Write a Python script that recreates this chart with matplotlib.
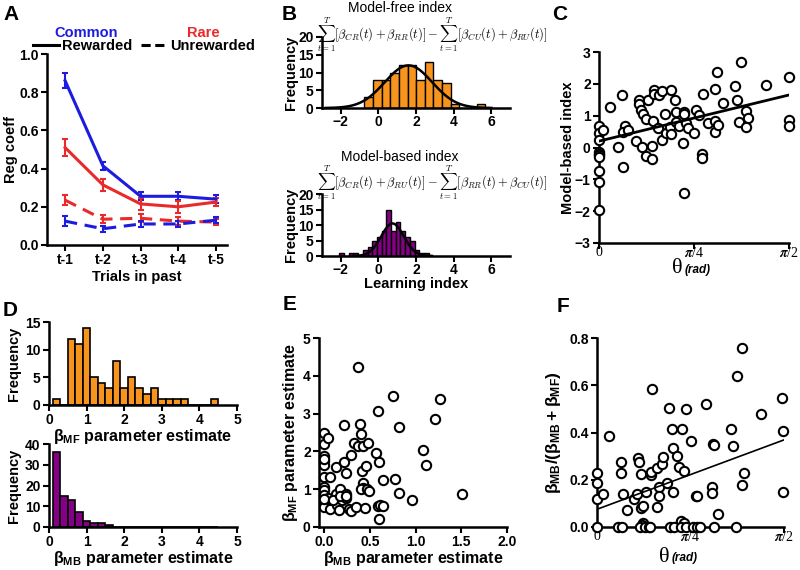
import numpy as np
import matplotlib
matplotlib.use('Agg')
import matplotlib.pyplot as plt
from matplotlib.lines import Line2D
from matplotlib.ticker import FormatStrFormatter

plt.rcParams['font.family'] = ['Liberation Sans', 'DejaVu Sans']
plt.rcParams['font.weight'] = 'bold'
plt.rcParams['axes.labelweight'] = 'bold'
plt.rcParams['mathtext.fontset'] = 'custom'
plt.rcParams['mathtext.rm'] = 'Liberation Sans'
plt.rcParams['mathtext.bf'] = 'Liberation Sans:bold'
plt.rcParams['mathtext.it'] = 'Liberation Sans:italic'

# ---- panel A: regression coefficients ----
trials = ['t-1', 't-2', 't-3', 't-4', 't-5']
common_rew = [0.86, 0.415, 0.255, 0.255, 0.24]
common_rew_err = [0.04, 0.02, 0.02, 0.02, 0.02]
rare_rew = [0.51, 0.315, 0.215, 0.20, 0.225]
rare_rew_err = [0.045, 0.03, 0.03, 0.03, 0.02]
rare_unrew = [0.235, 0.135, 0.14, 0.125, 0.12]
rare_unrew_err = [0.025, 0.02, 0.02, 0.02, 0.015]
common_unrew = [0.125, 0.085, 0.11, 0.11, 0.13]
common_unrew_err = [0.025, 0.015, 0.015, 0.015, 0.015]

# ---- panel B: learning index histograms ----
mf_centers = [-0.52, -0.06, 0.40, 0.86, 1.32, 1.78, 2.24, 2.70, 3.16, 3.62, 4.08, 4.54, 5.00, 5.46]
mf_counts = [3, 8, 8, 10, 12, 12, 8, 13, 8, 7, 1, 0, 0, 1]
mf_binw = 0.46
mf_fit = (1.6, 1.26, 12.0)   # mean, sd, peak

mb_centers = [-1.95, -1.70, -1.45, -1.20, -0.95, -0.70, -0.45, -0.20, 0.05, 0.30, 0.55,
              0.80, 1.05, 1.30, 1.55, 1.80, 2.05, 2.30, 2.55]
mb_counts = [1, 0, 1, 1, 0, 2, 3, 5, 6, 8, 15, 8, 11, 8, 6, 5, 2, 1, 1]
mb_binw = 0.25
mb_fit = (0.75, 0.6, 10.5)

# ---- panel C: theta (fraction of pi/2) vs model-based index ----
c_theta = [0, 0, 0, 0, 0, 0, 0, 0, 0, 0,
           0.02, 0.056, 0.10, 0.123, 0.126, 0.135, 0.128, 0.153, 0.193,
           0.21, 0.21, 0.222, 0.23, 0.245, 0.228, 0.245, 0.258, 0.28, 0.28,
           0.288, 0.288, 0.285, 0.316, 0.313, 0.332, 0.329, 0.346, 0.354,
           0.38, 0.375, 0.38, 0.40, 0.403, 0.407, 0.42, 0.446, 0.446, 0.442, 0.446,
           0.458, 0.467, 0.498, 0.508, 0.526, 0.544, 0.54, 0.547, 0.574,
           0.61, 0.61, 0.625, 0.612, 0.623, 0.65, 0.714, 0.726, 0.737, 0.749,
           0.775, 0.784, 0.775, 0.877, 1.0, 1.0, 1.0]
c_index = [0.67, 0.44, 0.25, -0.14, -0.2, -0.24, -0.3, -0.73, -1.07, -1.96,
           0.56, 1.28, 0.02, 1.64, -0.6, 0.67, 0.49, 0.56, 0.2,
           1.48, 1.36, 1.19, 1.06, 0.91, 0.02, -0.28, 1.48, 0.04, -0.35,
           1.8, 1.69, 0.83, 1.64, 0.62, 1.77, 0.25, 1.04, 0.44,
           1.8, 0.65, 0.42, 1.48, 1.12, 0.8, 0.67, 1.12, 1.04, 0.13, -1.44,
           0.77, 0.6, 0.44, 1.17, 1.01, -0.21, -0.34, 1.67, 0.77,
           0.84, 0.5, 0.7, 1.85, 2.37, 1.4, 1.93, 1.5, 0.8, 2.7,
           1.15, 0.94, 0.63, 1.95, 2.23, 0.86, 0.67]
c_fit = (0.2, 0.923)   # intercept, slope

# ---- panel D: parameter estimate histograms ----
d_edges = [0.1, 0.3, 0.5, 0.7, 0.9, 1.1, 1.3, 1.5, 1.7, 1.9, 2.1, 2.3, 2.5, 2.7, 2.9,
           3.1, 3.3, 3.5, 3.7, 3.9, 4.1, 4.3]
beta_mf_counts = [1, 0, 12, 11, 14, 5, 4, 3, 8, 3, 5, 3, 2, 3, 1, 1, 1, 1, 0, 0, 0, 1]
beta_mb_counts = [36, 15, 13, 7, 3, 2, 2, 1, 0, 0, 0, 0, 0, 0, 0, 0, 0, 0, 0, 0, 0, 0]

# ---- panel E: beta_MB vs beta_MF ----
e_beta_mb = [0, 0, 0.043, 0, 0, 0, 0, 0.07, 0, 0, 0, 0, 0, 0.043, 0.06, 0.134, 0.127,
             0.14, 0.17, 0.16, 0.2, 0.214, 0.217, 0.235, 0.235, 0.24, 0.27, 0.29, 0.29,
             0.35, 0.33, 0.37, 0.395, 0.405, 0.424, 0.478, 0.37, 0.417, 0.424, 0.424,
             0.405, 0.46, 0.467, 0.49, 0.45, 0.57, 0.587, 0.605, 0.587, 0.61, 0.6, 0.64,
             0.65, 0.757, 0.78, 0.815, 0.815, 0.967, 1.083, 1.11, 1.214, 1.264, 1.504,
             0, 0, 0.1, 0.17, 0.24]
e_beta_mf = [2.48, 2.2, 2.35, 1.88, 1.75, 1.64, 1.33, 1.33, 1.07, 0.98, 0.85, 0.63, 0.54,
             0.76, 0.47, 1.6, 0.87, 0.58, 1.0, 0.45, 0.71, 2.7, 1.73, 1.42, 0.87, 0.76,
             0.47, 0.42, 1.9, 0.54, 2.21, 2.14, 2.72, 2.46, 2.14, 2.21, 4.22, 1.49, 1.16,
             1.02, 1.0, 1.61, 1.0, 0.96, 0.49, 1.95, 3.07, 1.73, 0.56, 0.58, 0.2, 1.24,
             0.56, 3.47, 1.26, 2.65, 0.91, 0.71, 2.04, 1.64, 2.85, 3.38, 0.87,
             0.75, 1.8, 0.72, 0.83, 0.82]

# ---- panel F: theta (fraction of pi/2) vs MB weight ----
f_theta = [0, 0, 0, 0.03, 0.064, 0.127, 0.13, 0.14, 0.162, 0.198, 0.216, 0.22, 0.226,
           0.233, 0.233, 0.248, 0.262, 0.287, 0.29, 0.292, 0.319, 0.333, 0.333, 0.32,
           0.346, 0.355, 0.376, 0.387, 0.4, 0.408, 0.426, 0.408, 0.44, 0.453, 0.465,
           0.476, 0.503, 0.53, 0.535, 0.583, 0.613, 0.613, 0.62, 0.626, 0.649, 0.717,
           0.729, 0.75, 0.774, 0.774, 0.786, 0.877, 0.991, 0.993, 0.996,
           0.248, 0.447, 0.465, 0.24,
           0, 0.11, 0.133, 0.231, 0.258, 0.276, 0.285, 0.388, 0.413, 0.448, 0.477,
           0.516, 0.534, 0.552, 0.626, 0.744]
f_weight = [0.23, 0.185, 0.117, 0.138, 0.386, 0.276, 0.227, 0.138, 0.072, 0.118, 0.138,
            0.293, 0.276, 0.224, 0.079, 0.089, 0.15, 0.22, 0.234, 0.584, 0.248, 0.168,
            0.131, 0.086, 0.267, 0.295, 0.185, 0.502, 0.415, 0.333, 0.3, 0.147, 0.255,
            0.415, 0.238, 0.5, 0.364, 0.131, 0.133, 0.52, 0.171, 0.145, 0.351, 0.347,
            0.054, 0.413, 0.343, 0.64, 0.756, 0.178, 0.23, 0.478, 0.544, 0.408, 0.147,
            0.018, 0.025, 0.018, 0.01,
            0, 0, 0, 0, 0, 0, 0, 0, 0, 0, 0, 0, 0, 0, 0, 0]
f_fit = (0.075, 0.187)

BLUE = '#1c1ce0'
RED = '#ea2a2a'
ORANGE = '#f7941d'
PURPLE = '#850085'

fig = plt.figure(figsize=(8, 5.7), dpi=100)


def px_axes(x0, y0, x1, y1):
    return fig.add_axes([x0 / 800, 1 - y1 / 570, (x1 - x0) / 800, (y1 - y0) / 570])


def prism(ax):
    for s in ['top', 'right']:
        ax.spines[s].set_visible(False)
    for s in ['left', 'bottom']:
        ax.spines[s].set_linewidth(1.8)
    ax.tick_params(direction='out', length=4, width=1.5, labelsize=10, pad=2)


def bold_ticks(ax, xaxis=True):
    labels = list(ax.get_yticklabels())
    if xaxis:
        labels += list(ax.get_xticklabels())
    for t in labels:
        t.set_fontweight('bold')


def theta_xaxis(ax, tx, rx, ty):
    ax.set_xlim(0, np.pi / 2)
    ax.set_xticks([0, np.pi / 4, np.pi / 2])
    ax.set_xticklabels(['0', r'$\pi$/4', r'$\pi$/2'], fontfamily='Liberation Serif',
                       fontweight='normal', math_fontfamily='stix', fontsize=10)
    ax.tick_params(axis='x', pad=-2)
    ax.text(tx, ty, 'θ', transform=ax.transAxes, family='Liberation Serif',
            fontweight='normal', fontsize=16, ha='right', va='center')
    ax.text(rx, ty - 0.005, '(rad)', transform=ax.transAxes, style='italic', fontsize=8.5,
            fontweight='bold', ha='left', va='center')


# A
ax = px_axes(47, 54, 227, 245)
prism(ax)
x = np.arange(1, 6)
eb = dict(lw=2.2, elinewidth=1.5, capsize=2.5, capthick=1.5)
ax.errorbar(x, common_rew, yerr=common_rew_err, color=BLUE, **eb)
ax.errorbar(x, rare_rew, yerr=rare_rew_err, color=RED, **eb)
ax.errorbar(x, rare_unrew, yerr=rare_unrew_err, color=RED, ls=(0, (4, 2.5)), **eb)
ax.errorbar(x, common_unrew, yerr=common_unrew_err, color=BLUE, ls=(0, (4, 2.5)), **eb)
ax.set_xlim(0.52, 5.29)
ax.set_ylim(0, 1.0)
ax.set_xticks(x)
ax.set_xticklabels(trials)
ax.set_yticks(np.arange(0, 1.01, 0.2))
ax.yaxis.set_major_formatter(FormatStrFormatter('%.1f'))
ax.set_ylabel('Reg coeff', fontsize=10.5)
ax.set_xlabel('Trials in past', fontsize=10.5)
ax.yaxis.set_label_coords(-0.16, 0.5)
ax.xaxis.set_label_coords(0.5, -0.13)
bold_ticks(ax)
ax.text(0.22, 1.11, 'Common', color=BLUE, fontsize=10.5, ha='center', va='center',
        transform=ax.transAxes)
ax.text(0.87, 1.11, 'Rare', color=RED, fontsize=10.5, ha='center', va='center',
        transform=ax.transAxes)
handles = [Line2D([], [], color='k', lw=2.2), Line2D([], [], color='k', lw=2.2, ls=(0, (3, 1.5)))]
ax.legend(handles, ['Rewarded', 'Unrewarded'], ncol=2, frameon=False, loc='center',
          bbox_to_anchor=(0.54, 1.04), handlelength=1.8, handletextpad=0.2,
          columnspacing=0.6, borderpad=0, prop={'size': 10.5, 'weight': 'bold'})

# B
formula_mf = (r'$\sum_{t=1}^{T}[\beta_{CR}(t)+\beta_{RR}(t)]-'
              r'\sum_{t=1}^{T}[\beta_{CU}(t)+\beta_{RU}(t)]$')
formula_mb = (r'$\sum_{t=1}^{T}[\beta_{CR}(t)+\beta_{RU}(t)]-'
              r'\sum_{t=1}^{T}[\beta_{RR}(t)+\beta_{CU}(t)]$')
for (y0, y1, centers, counts, bw, fit, col, title, formula, ty, fy) in [
        (37, 108, mf_centers, mf_counts, mf_binw, mf_fit, ORANGE, 'Model-free index',
         formula_mf, 8, 35),
        (194, 256, mb_centers, mb_counts, mb_binw, mb_fit, PURPLE, 'Model-based index',
         formula_mb, 157, 183)]:
    ax = px_axes(322, y0, 510, y1)
    prism(ax)
    ax.tick_params(axis='x', pad=1)
    ax.bar(centers, counts, width=bw, color=col, edgecolor='k', lw=1)
    mu, sd, pk = fit
    xs = np.linspace(mu - 3.5 * sd, mu + 3.5 * sd, 300)
    ax.plot(xs, pk * np.exp(-0.5 * ((xs - mu) / sd) ** 2), color='k', lw=1.8)
    ax.set_xlim(-3, 7)
    ax.set_ylim(0, 20)
    ax.set_xticks([-2, 0, 2, 4, 6])
    ax.set_yticks([0, 5, 10, 15, 20])
    ax.set_ylabel('Frequency', fontsize=10.5)
    ax.yaxis.set_label_coords(-0.128, 0.5)
    bold_ticks(ax)
    fig.text(400 / 800, 1 - ty / 570, title, fontsize=10, fontweight='normal',
             ha='center', va='center')
    fig.text(432 / 800, 1 - fy / 570, formula, fontsize=9, math_fontfamily='cm',
             ha='center', va='center')
ax.set_xlabel('Learning index', fontsize=10.5)
ax.xaxis.set_label_coords(0.5, -0.34)

# C
ax = px_axes(599, 52, 789, 243)
prism(ax)
ct = np.array(c_theta) * np.pi / 2
ax.scatter(ct, c_index, s=45, facecolor='white', edgecolor='k', lw=1.5, zorder=3,
           clip_on=False)
xl = np.array([0, np.pi / 2])
ax.plot(xl, c_fit[0] + c_fit[1] * xl, color='k', lw=2, zorder=4)
ax.set_ylim(-3, 3)
ax.set_yticks(range(-3, 4))
ax.set_ylabel('Model-based index', fontsize=10.5)
ax.yaxis.set_label_coords(-0.125, 0.5)
bold_ticks(ax, xaxis=False)
theta_xaxis(ax, 0.44, 0.45, -0.135)

# D
for (y0, y1, counts, col, ymax, yt, lab, ly) in [
        (322, 405, beta_mf_counts, ORANGE, 15, [0, 5, 10, 15], 'MF', -0.26),
        (444, 527, beta_mb_counts, PURPLE, 40, [0, 10, 20, 30, 40], 'MB', -0.27)]:
    ax = px_axes(49, y0, 237, y1)
    prism(ax)
    ax.bar(d_edges, counts, width=0.2, align='edge', color=col, edgecolor='k', lw=1.2)
    ax.set_xlim(0, 5)
    ax.set_ylim(0, ymax)
    ax.set_yticks(yt)
    ax.set_xticks(range(6))
    ax.set_ylabel('Frequency', fontsize=10.5)
    ax.yaxis.set_label_coords(-0.149, 0.5)
    ax.set_xlabel(r'$\mathrm{\beta}_{\mathbf{' + lab + r'}}$ parameter estimate',
                  fontsize=11.5)
    ax.xaxis.set_label_coords(0.5, ly)
    bold_ticks(ax)

# E
ax = px_axes(319, 338, 507, 527)
prism(ax)
ax.scatter(e_beta_mb, e_beta_mf, s=45, facecolor='white', edgecolor='k', lw=1.5,
           zorder=3, clip_on=False)
ax.set_xlim(-0.055, 2.0)
ax.set_ylim(0, 5)
ax.set_xticks([0, 0.5, 1.0, 1.5, 2.0])
ax.xaxis.set_major_formatter(FormatStrFormatter('%.1f'))
ax.set_yticks(range(6))
ax.set_xlabel(r'$\mathrm{\beta}_{\mathbf{MB}}$ parameter estimate', fontsize=11.5)
ax.set_ylabel(r'$\mathrm{\beta}_{\mathbf{MF}}$ parameter estimate', fontsize=11.5)
ax.xaxis.set_label_coords(0.5, -0.115)
ax.yaxis.set_label_coords(-0.1, 0.5)
bold_ticks(ax)

# F
ax = px_axes(597, 338, 784, 527)
prism(ax)
ft = np.array(f_theta) * np.pi / 2
ax.scatter(ft, f_weight, s=45, facecolor='white', edgecolor='k', lw=1.5, zorder=3,
           clip_on=False)
ax.plot(xl, f_fit[0] + f_fit[1] * xl, color='k', lw=1.2, zorder=4)
ax.set_ylim(0, 0.8)
ax.set_yticks(np.arange(0, 0.81, 0.2))
ax.yaxis.set_major_formatter(FormatStrFormatter('%.1f'))
ax.set_ylabel(r'$\mathrm{\beta_{\mathbf{MB}}/(\beta_{\mathbf{MB}}+\beta_{\mathbf{MF}})}$',
              fontsize=12.5, fontweight='normal')
ax.yaxis.set_label_coords(-0.18, 0.5)
bold_ticks(ax, xaxis=False)
theta_xaxis(ax, 0.39, 0.40, -0.16)

# panel letters
for lbl, px, py in [('A', 3, 15), ('B', 282, 15), ('C', 552, 15),
                    ('D', 3, 310), ('E', 283, 305), ('F', 557, 307)]:
    fig.text(px / 800, 1 - py / 570, lbl, fontsize=15, fontweight='bold',
             ha='left', va='center')

fig.savefig('out.png', dpi=100)
